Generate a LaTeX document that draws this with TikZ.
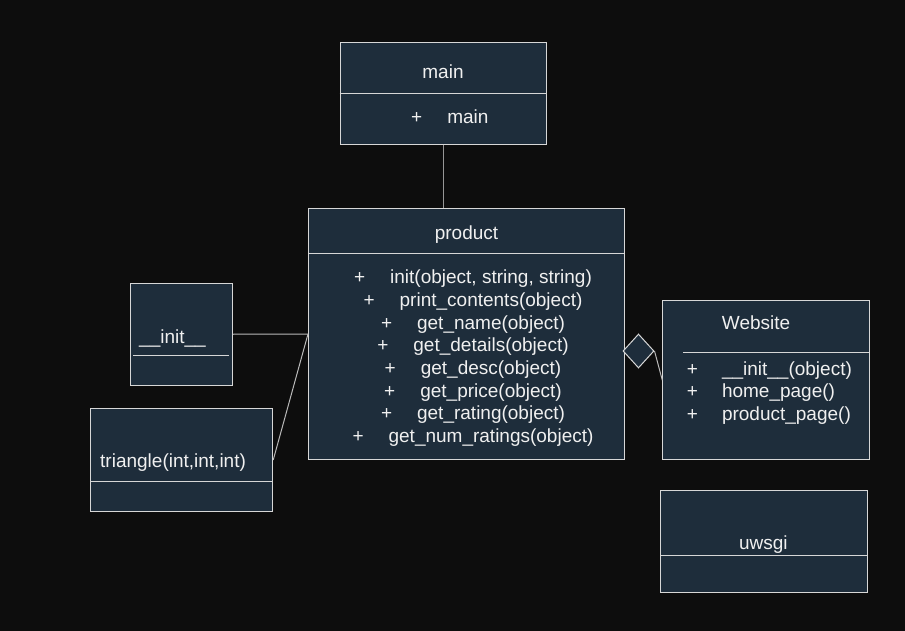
\documentclass[tikz,border=0pt]{standalone}
\usepackage{fontspec}
\setmainfont{Liberation Sans}
\usetikzlibrary{shapes.geometric}
\definecolor{bgdark}{RGB}{13,13,13}
\definecolor{boxfill}{RGB}{30,45,59}
\definecolor{boxline}{RGB}{215,215,215}
\definecolor{txtlight}{RGB}{240,240,240}
\definecolor{wiregray}{RGB}{150,150,150}
\tikzset{
  every node/.append style={font=\fontsize{19}{22.7}\selectfont, text=txtlight},
  classbox/.style={draw=boxline, fill=boxfill, anchor=north west, inner sep=0pt, line width=1pt},
  divider/.style={draw=boxline, line width=1pt},
  wire/.style={draw=boxline!85!bgdark, line width=1pt}
}
\begin{document}
\begin{tikzpicture}[
  x=1pt, y=-1pt,
  lbl/.style={inner sep=0pt},
  agg/.style={diamond, draw=boxline, fill=boxfill, minimum width=31pt, minimum height=34pt, inner sep=0pt, line width=1pt}
]
% Background
\fill[bgdark] (0,0) rectangle (905,631);
\useasboundingbox (0,0) rectangle (905,631);

% Class boxes
\node[classbox, minimum width=206.5pt, minimum height=101.7pt] (main) at (339.5,42.3) {};
\node[classbox, minimum width=316pt, minimum height=251pt] (product) at (308,208) {};
\node[classbox, minimum width=102pt, minimum height=102.5pt] (init) at (130.2,282.5) {};
\node[classbox, minimum width=182pt, minimum height=102.3pt] (triangle) at (90.2,408.4) {};
\node[classbox, minimum width=207pt, minimum height=159.3pt] (website) at (662.3,300) {};
\node[classbox, minimum width=206.7pt, minimum height=102.3pt] (uwsgi) at (660,490) {};

% Compartment lines
\draw[divider] (main.west |- 0,93.3) -- (main.east |- 0,93.3);
\draw[divider] (product.west |- 0,253.3) -- (product.east |- 0,253.3);
\draw[divider] (133,355.7) -- (229,355.7);
\draw[divider] (triangle.west |- 0,481) -- (triangle.east |- 0,481);
\draw[divider] (683,352.3) -- (website.east |- 0,352.3);
\draw[divider] (uwsgi.west |- 0,555.3) -- (uwsgi.east |- 0,555.3);

% Texts
\node[lbl, anchor=base] (maintitle) at (443,78.3) {main};
\node[lbl, anchor=base west] (mainops) at (411,123.3) {+\hspace{25pt}main};
\node[lbl, anchor=base] (prodtitle) at (466.5,239.3) {product};
\node[lbl, anchor=center, align=center] (prodops) at (473,358.3) {%
+\hspace{25pt}init(object, string, string)\\
+\hspace{25pt}print\_contents(object)\\
+\hspace{25pt}get\_name(object)\\
+\hspace{25pt}get\_details(object)\\
+\hspace{25pt}get\_desc(object)\\
+\hspace{25pt}get\_price(object)\\
+\hspace{25pt}get\_rating(object)\\
+\hspace{25pt}get\_num\_ratings(object)};
\node[lbl, anchor=base west] (inittitle) at (139,343) {\_\_init\_\_};
\node[lbl, anchor=base west] (tritle) at (100,467) {triangle(int,int,int)};
\node[lbl, anchor=base west] (webtitle) at (721.7,329.3) {Website};
\node[lbl, anchor=west, align=left] (webops) at (686.7,393) {%
+\hspace{24pt}\_\_init\_\_(object)\\
+\hspace{24pt}home\_page()\\
+\hspace{24pt}product\_page()};
\node[lbl, anchor=base] (uwsgititle) at (763.3,549) {uwsgi};

% Aggregation diamond
\node[agg] (aggdia) at (638.5,351) {};

% Connectors
\draw[wire, draw=wiregray] (main.south) -- (main.south |- product.north);
\draw[wire] (init.east) -- (product.west);
\draw[wire] (triangle.east) -- (product.west);
\draw[wire] (aggdia.east) -- (website.west);

\end{tikzpicture}
\end{document}
